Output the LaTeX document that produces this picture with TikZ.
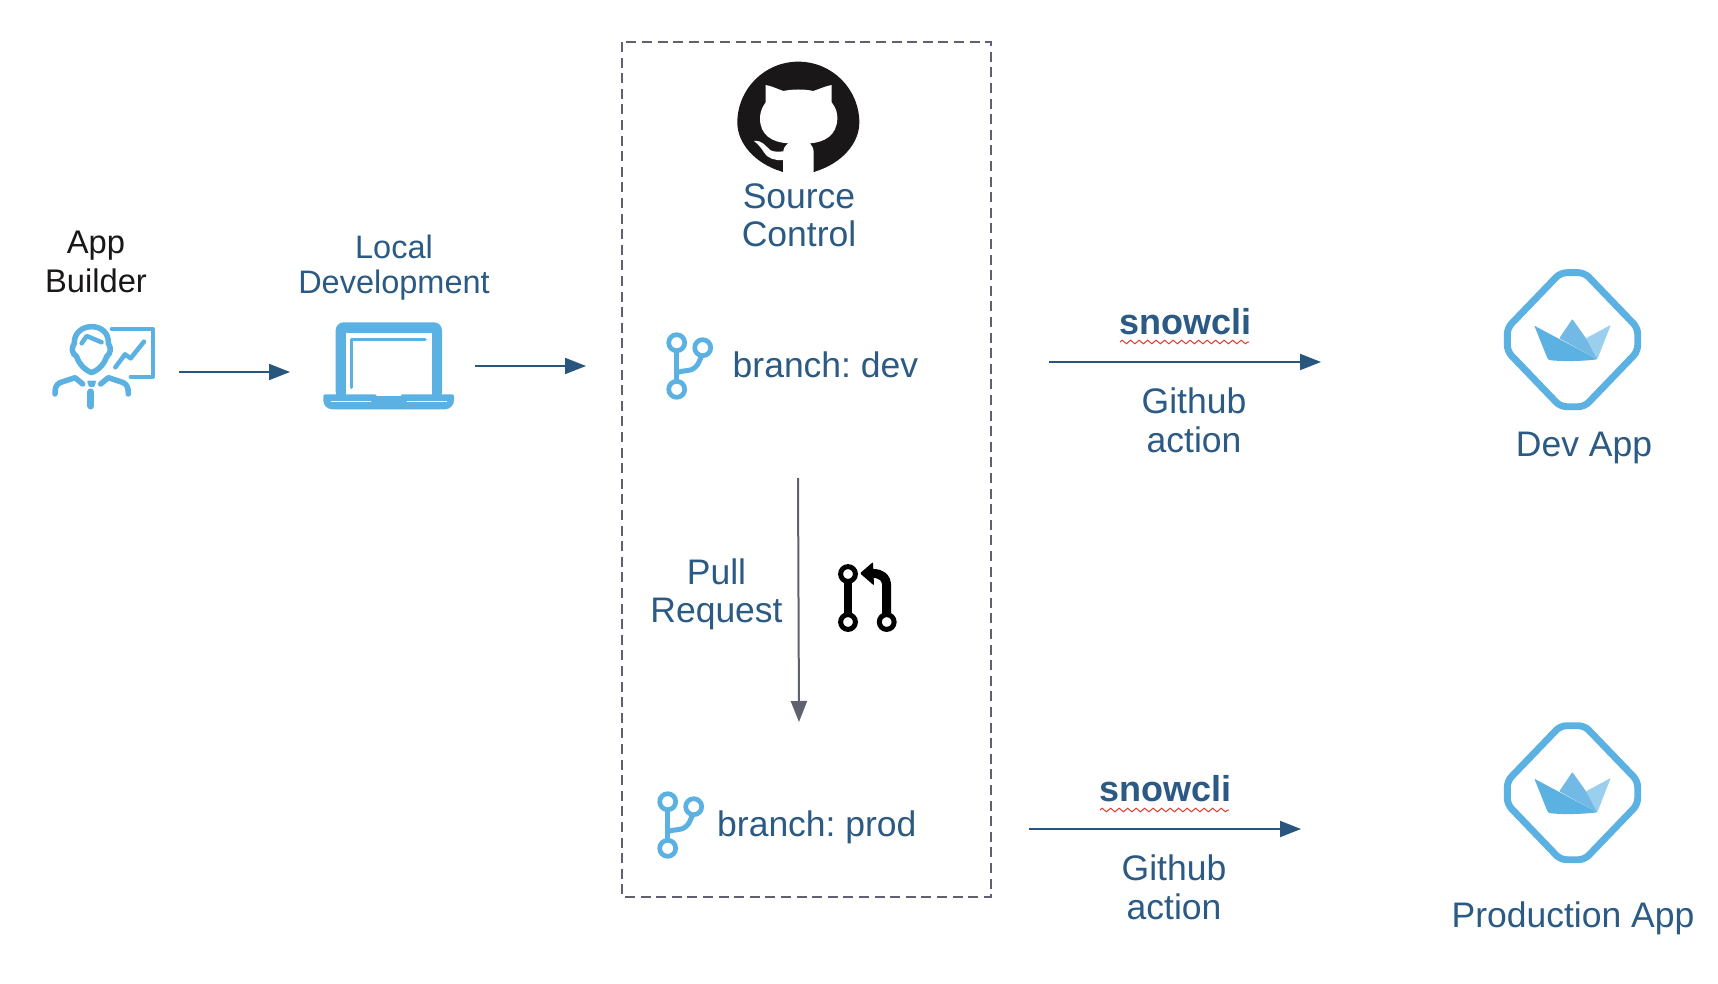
\documentclass[tikz,border=0pt]{standalone}
\usepackage{fontspec}
\setmainfont{Liberation Sans}
\usetikzlibrary{arrows.meta,decorations.pathmorphing}
\definecolor{txtblue}{HTML}{2B5A84}
\definecolor{arrowblue}{HTML}{29567F}
\definecolor{iconblue}{HTML}{5AB1E2}
\definecolor{iconmid}{HTML}{72BAE5}
\definecolor{iconlight}{HTML}{9ACFEE}
\definecolor{slate}{HTML}{5F6070}
\definecolor{inkdark}{HTML}{1A1718}
\definecolor{squiggle}{HTML}{E0392B}
\tikzset{
  lbl/.style={font=\fontsize{35.5}{38.5}\selectfont,text=txtblue,inner sep=0pt,align=center,anchor=base},
  branchlbl/.style={lbl,anchor=base west,font=\fontsize{35.5}{38.5}\selectfont\frenchspacing},
  flowarrow/.style={draw=arrowblue,line width=2pt,-{Triangle[length=21pt,width=16pt]}},
  iconline/.style={draw=iconblue,line width=5.5pt,line cap=round,line join=round},
  spell/.style={draw=squiggle,line width=1pt,decorate,decoration={zigzag,segment length=8.5pt,amplitude=1.8pt}},
  branchicon/.pic={
    \draw[iconblue,line width=4.7pt] (0,0) circle[radius=8] (26,5) circle[radius=8] (0,46.6) circle[radius=8];
    \draw[iconblue,line width=5pt] (0,9) -- (0,38);
    \draw[iconblue,line width=5pt] (0,30) .. controls (8,27) and (14,29) .. (18,25) .. controls (22,22) and (23,17) .. (25,13);
  },
  appicon/.pic={
    \draw[iconblue,line width=6.9pt,rounded corners=6pt,line join=round]
      (1560.5,272.7) -- (1584.5,272.7) -- (1637.7,328) -- (1637.7,351.3) -- (1584.5,406.7) -- (1560.5,406.7) -- (1507.3,351.3) -- (1507.3,328) -- cycle;
    \fill[iconlight,rounded corners=0.7pt] (1586,338.3) -- (1610.7,325) -- (1597.3,359.3) -- cycle;
    \fill[iconmid,rounded corners=0.7pt] (1559.3,338.3) -- (1572.3,319) -- (1586,338.3) -- (1597.3,359.3) -- cycle;
    \fill[iconblue,rounded corners=0.7pt] (1534.3,325.7) -- (1597.3,359.3) .. controls (1580,361.5) and (1560,361.5) .. (1549,360) -- (1547.3,358) -- cycle;
  }
}
\begin{document}
\begin{tikzpicture}[x=1pt,y=-1pt]
\useasboundingbox (0,0) rectangle (1718,984);
\fill[white] (0,0) rectangle (1718,984);

% source-control frame
\draw[slate,line width=2.3pt,dash pattern=on 10pt off 5.6pt] (622,42) rectangle (991,897);

% person icon
\begin{scope}[shift={(40,310)},scale=.3333]
  \draw[iconline] (155,50) .. controls (185,50) and (207,70) .. (205,100) .. controls (215,115) and (212,130) .. (200,140)
     .. controls (192,165) and (172,182) .. (155,188) .. controls (138,182) and (118,165) .. (110,140)
     .. controls (95,130) and (93,115) .. (103,100) .. controls (102,70) and (125,50) .. (155,50) -- cycle;
  \draw[iconline,line width=4.5pt] (125,100) -- (140,78) -- (185,97);
  \draw[iconline,line width=4pt] (215,57) -- (338,57) -- (338,200) -- (272,200);
  \draw[iconline,line width=4.5pt] (226,172) -- (255,133) -- (272,145) -- (312,95);
  \draw[iconline] (45,252) .. controls (45,235) and (47,225) .. (60,218) -- (105,203) -- (128,222);
  \draw[iconline] (265,252) .. controls (265,235) and (263,225) .. (250,218) -- (205,203) -- (182,222);
  \fill[iconblue,rounded corners=1pt] (141,212) -- (169,212) -- (163,231) -- (147,231) -- cycle;
  \draw[iconline,line width=7pt] (153,246) -- (153,288);
\end{scope}

% laptop icon
\fill[iconblue,rounded corners=8pt] (335.7,322.3) -- (442,322.3) -- (442,400) -- (335.7,400) -- cycle;
\fill[white] (345.7,332.7) rectangle (431.7,396);
\fill[iconblue] (327,394.3) [rounded corners=2pt] -- (376.7,394.3) [sharp corners] -- (376.7,399.3) -- (400.7,399.3) [rounded corners=2pt] -- (400.7,394.3) -- (454,394.3) [rounded corners=9pt] -- (454,409.3) -- (323.3,409.3) [rounded corners=2pt] -- (323.3,394.3) -- cycle;
\draw[white,line width=1.8pt] (331,401.5) -- (371,401.5) (406.7,401.5) -- (446.5,401.5);
\draw[iconline,line width=3.5pt] (351.7,387.3) -- (351.7,339.3) -- (425,339.3);

% labels, left
\node[lbl,text=inkdark,font=\fontsize{32.7}{39}\selectfont] (builder) at (96,292) {App\\Builder};
\node[lbl,font=\fontsize{32.5}{35}\selectfont] (localdev) at (394,294) {Local\\Development};

% github mark
\begin{scope}[shift={(730,55)},scale=.3333]
  \fill[inkdark] (22,203) arc[start angle=180,end angle=360,radius=183] .. controls (388,265) and (335,325) .. (257,349) -- (253,351) -- (157,351) -- (153,349) .. controls (75,325) and (22,265) .. (22,203) -- cycle;
  \fill[white] (107,90) .. controls (125,93) and (145,103) .. (160,108) .. controls (190,102) and (222,102) .. (250,108)
     .. controls (268,102) and (288,93) .. (305,90) -- (305,142) .. controls (318,158) and (323,175) .. (322,192)
     .. controls (320,240) and (285,262) .. (240,265) .. controls (248,272) and (251,282) .. (251,295) -- (251,352) -- (159,352)
     -- (159,295) .. controls (160,280) and (165,272) .. (175,265) .. controls (125,262) and (90,240) .. (90,190)
     .. controls (90,172) and (96,157) .. (107,142) -- cycle;
  \fill[white] (72,258) .. controls (98,255) and (108,275) .. (120,285) .. controls (132,292) and (148,290) .. (160,289)
     -- (160,315) .. controls (135,317) and (115,312) .. (102,292) .. controls (95,281) and (85,268) .. (72,258) -- cycle;
\end{scope}
\node[lbl,font=\fontsize{35.5}{38}\selectfont] (source) at (799,247) {Source\\Control};

% branches
\pic at (676.7,342.7) {branchicon};
\pic at (667.7,801.7) {branchicon};
\node[branchlbl] (dev) at (732.5,377) {branch: dev};
\node[branchlbl] (prod) at (717,836) {branch: prod};

% pull request
\node[lbl,font=\fontsize{35.5}{38}\selectfont] (pull) at (716.5,622) {Pull\\Request};
\coordinate (prtop) at (798,478);
\coordinate (prbottom) at (799,722);
\draw[draw=slate,line width=2pt,-{Triangle[length=21pt,width=16pt]}] (prtop) -- (prbottom);
\draw[black,line width=5pt] (848,574) circle[radius=7.4] (848,622) circle[radius=7.4] (886.7,622) circle[radius=7.4];
\draw[black,line width=8pt] (848,583) -- (848,613);
\draw[black,line width=9pt] (886.7,613) -- (886.7,587) .. controls (886.7,577) and (881,573.5) .. (873,573.5) -- (868,573.5);
\fill[black,rounded corners=1pt] (860,573.3) -- (873,562) -- (874,585.5) -- cycle;

% left arrows
\coordinate (a1s) at (179,372);
\coordinate (a1e) at (290,372);
\coordinate (a2s) at (475,366);
\coordinate (a2e) at (586,366);
\draw[flowarrow] (a1s) -- (a1e);
\draw[flowarrow] (a2s) -- (a2e);

% deployment to dev
\coordinate (d1s) at (1049,362);
\coordinate (d1e) at (1321,362);
\draw[flowarrow] (d1s) -- (d1e);
\node[lbl,font=\fontsize{36}{38.5}\selectfont\bfseries] (snowdev) at (1185,334) {snowcli};
\draw[spell] (1120,342) -- (1249,342);
\node[lbl] (actiondev) at (1194,452) {Github\\action};
\pic at (0,0) {appicon};
\node[lbl] (devapp) at (1584,456) {Dev App};

% deployment to production
\coordinate (d2s) at (1029,829);
\coordinate (d2e) at (1301,829);
\draw[flowarrow] (d2s) -- (d2e);
\node[lbl,font=\fontsize{36}{38.5}\selectfont\bfseries] (snowprod) at (1165,801) {snowcli};
\draw[spell] (1100,810) -- (1229,810);
\node[lbl] (actionprod) at (1174,919) {Github\\action};
\pic at (0,453) {appicon};
\node[lbl] (prodapp) at (1573,927) {Production App};
\end{tikzpicture}
\end{document}
